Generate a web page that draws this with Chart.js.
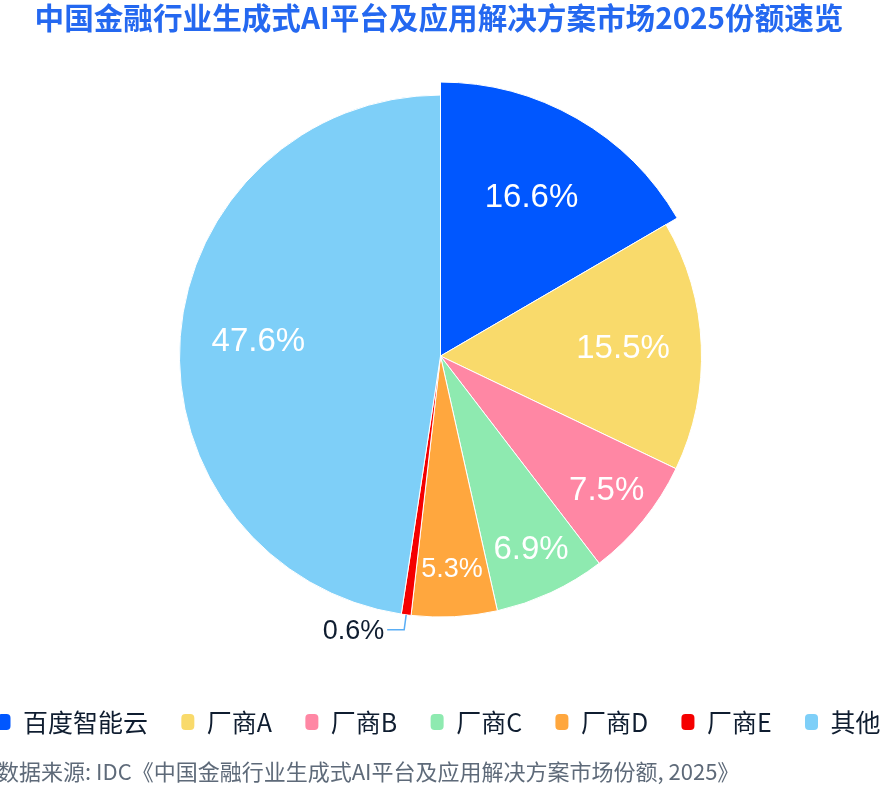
<!DOCTYPE html>
<html>
<head>
<meta charset="utf-8">
<title>中国金融行业生成式AI平台及应用解决方案市场2025份额速览</title>
<script src="https://cdn.jsdelivr.net/npm/chart.js@4.4.1/dist/chart.umd.min.js"></script>
<style>
  html, body { margin: 0; padding: 0; background: #ffffff; }
  canvas { display: block; }
</style>
</head>
<body>
<canvas id="shareChart" width="885" height="785"></canvas>
<script>
/* ===== data ===== */
const vendors = ["百度智能云", "厂商A", "厂商B", "厂商C", "厂商D", "厂商E", "其他"];
const shares = [16.6, 15.5, 7.5, 6.9, 5.3, 0.6, 47.6];
const sliceColors = ["#0057ff", "#f9da6b", "#ff87a4", "#8eeab0", "#ffa73e", "#f50000", "#7ecff8"];
const titleText = "中国金融行业生成式AI平台及应用解决方案市场2025份额速览";
const sourceText = "数据来源: IDC《中国金融行业生成式AI平台及应用解决方案市场份额, 2025》";

const labelFont = '"Liberation Sans", Arial, sans-serif';
const cjkFont = '"Noto Sans CJK SC", "Noto Sans", sans-serif';

/* first slice drawn a little larger than the rest */
const growFirstSlice = {
  id: "growFirstSlice",
  afterDatasetsUpdate(chart) {
    const meta = chart.getDatasetMeta(0);
    if (meta.data[0]) meta.data[0].outerRadius = meta.controller.outerRadius + 13;
  }
};

/* percent labels inside slices, leader line for the tiny one */
const sliceLabels = {
  id: "sliceLabels",
  afterDatasetsDraw(chart) {
    const ctx = chart.ctx;
    const meta = chart.getDatasetMeta(0);
    const baseR = meta.controller.outerRadius;

    ctx.save();
    ctx.textBaseline = "middle";

    meta.data.forEach((arc, i) => {
      const value = shares[i];
      const mid = (arc.startAngle + arc.endAngle) / 2;
      const cos = Math.cos(mid);
      const sin = Math.sin(mid);
      const text = value.toFixed(1) + "%";
      const size = value < 6 ? 27 : 33;
      ctx.font = size + "px " + labelFont;

      if (value < 2) {
        const x0 = arc.x + cos * baseR;
        const y0 = arc.y + sin * baseR;
        const x1 = arc.x + cos * (baseR + 15);
        const y1 = arc.y + sin * (baseR + 15);
        const dir = cos < 0 ? -1 : 1;
        const x2 = x1 + dir * 17;

        ctx.strokeStyle = "#5aaef5";
        ctx.lineWidth = 1.5;
        ctx.beginPath();
        ctx.moveTo(x0, y0);
        ctx.lineTo(x1, y1);
        ctx.lineTo(x2, y1);
        ctx.stroke();

        ctx.fillStyle = "#0f1d30";
        ctx.textAlign = dir < 0 ? "right" : "left";
        ctx.fillText(text, x2 + dir * 3, y1 + 2);
      } else {
        const r = baseR * (value >= 10 ? 0.7 : 0.82);
        ctx.fillStyle = "#ffffff";
        ctx.textAlign = "center";
        ctx.fillText(text, arc.x + cos * r, arc.y + sin * r);
      }
    });

    ctx.restore();
  }
};

new Chart(document.getElementById("shareChart"), {
  type: "pie",
  data: {
    labels: vendors,
    datasets: [
      {
        data: shares,
        backgroundColor: sliceColors,
        borderColor: "#ffffff",
        borderWidth: 1
      }
    ]
  },
  plugins: [growFirstSlice, sliceLabels],
  options: {
    responsive: false,
    animation: false,
    radius: 261,
    layout: {
      padding: { left: -3, right: 4, top: 0, bottom: 0 }
    },
    plugins: {
      title: {
        display: true,
        text: titleText,
        color: "#2468f0",
        font: { family: cjkFont, size: 29.6, weight: "bold" },
        padding: { top: 0, bottom: -33 }
      },
      subtitle: {
        display: true,
        position: "bottom",
        align: "start",
        text: sourceText,
        color: "#5e6a79",
        font: { family: cjkFont, size: 22, weight: "normal" },
        padding: { top: 14, bottom: 0 }
      },
      legend: {
        position: "bottom",
        labels: {
          color: "#0f1d30",
          font: { family: cjkFont, size: 25 },
          boxWidth: 13,
          boxHeight: 16,
          padding: 0,
          generateLabels(chart) {
            const items = Chart.overrides.pie.plugins.legend.labels.generateLabels(chart);
            // trailing space gives the gap between legend items
            return items.map((item, i) => ({
              ...item,
              text: i < items.length - 1 ? item.text + "\u2003\u2004" : item.text,
              lineWidth: 0,
              strokeStyle: item.fillStyle,
              borderRadius: 4
            }));
          }
        }
      },
      tooltip: { enabled: false }
    }
  }
});
</script>
</body>
</html>
